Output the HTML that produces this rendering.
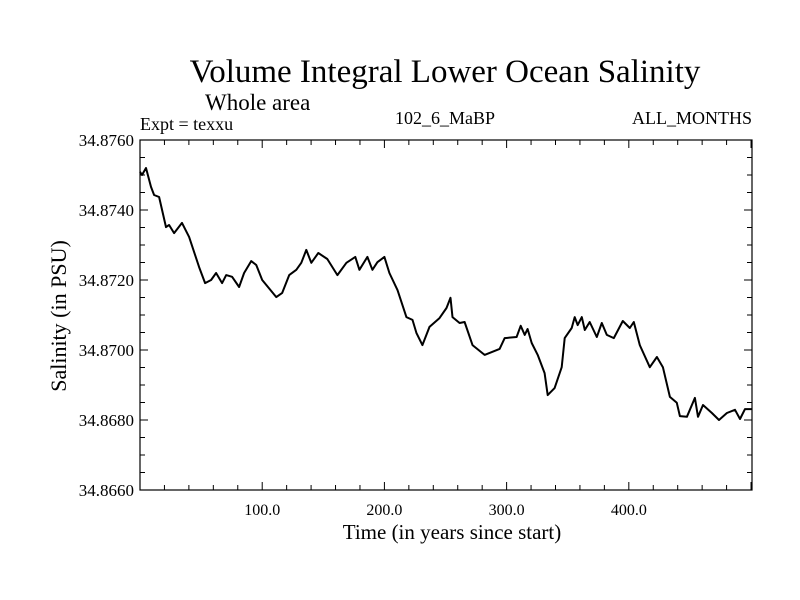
<!DOCTYPE html>
<html><head><meta charset="utf-8"><style>
body{margin:0;background:#fff}
svg{display:block}
text{font-family:"Liberation Serif",serif;fill:#000}
</style></head><body>
<svg id="chart" width="800" height="600">
<text x="445" y="82" font-size="33" text-anchor="middle">Volume Integral Lower Ocean Salinity</text>
<text x="205" y="110" font-size="23">Whole area</text>
<text x="140" y="130" font-size="18">Expt = texxu</text>
<text x="445" y="124" font-size="18" text-anchor="middle">102_6_MaBP</text>
<text x="752" y="124" font-size="18" text-anchor="end">ALL_MONTHS</text>
<text x="452" y="539" font-size="21" text-anchor="middle">Time (in years since start)</text>
<text x="0" y="0" font-size="22" text-anchor="middle" transform="translate(66,316) rotate(-90)">Salinity (in PSU)</text>
<g id="axes"></g>
<path id="line" fill="none" stroke="#000" stroke-width="2" stroke-linejoin="round"></path>
<rect x="140" y="140" width="612" height="350" fill="none" stroke="#000" stroke-width="1.2"></rect>
</svg>
<script>
const years=[0,1.6,4.9,9.0,11.5,15.6,21.3,23.8,27.9,34.4,40.2,48.4,53.3,58.2,62.3,67.2,70.5,75.4,81.1,85.2,91.0,95.1,100.0,111.5,116.4,122.1,127.9,132.0,136.1,140.2,145.9,153.3,161.5,168.9,176.2,179.5,186.1,190.2,194.3,200.0,204.1,210.7,218.0,223.0,226.2,231.1,236.9,245.1,250.8,254.1,255.7,261.5,265.6,272.1,282.0,294.3,298.4,308.2,311.5,314.8,317.2,320.5,325.4,331.1,333.6,339.3,345.1,347.5,353.3,355.7,358.2,361.5,364.0,368.0,373.8,377.9,382.0,387.7,395.1,400.8,404.1,409.0,417.2,423.0,427.9,433.6,439.3,441.8,447.5,454.1,456.6,460.7,468.0,473.8,480.3,486.9,491.0,495.1,500.8];
const salinity=[34.87509,34.87500,34.87520,34.87466,34.87443,34.87437,34.87351,34.87357,34.87334,34.87363,34.87323,34.87237,34.87191,34.87200,34.87220,34.87191,34.87214,34.87209,34.87180,34.87220,34.87254,34.87243,34.87200,34.87151,34.87163,34.87214,34.87229,34.87249,34.87286,34.87249,34.87277,34.87260,34.87214,34.87249,34.87266,34.87229,34.87266,34.87229,34.87251,34.87266,34.87220,34.87171,34.87094,34.87086,34.87049,34.87014,34.87066,34.87091,34.87120,34.87149,34.87094,34.87077,34.87080,34.87014,34.86986,34.87003,34.87034,34.87037,34.87069,34.87043,34.87060,34.87020,34.86986,34.86934,34.86871,34.86891,34.86951,34.87034,34.87063,34.87094,34.87071,34.87094,34.87057,34.87080,34.87037,34.87077,34.87043,34.87034,34.87083,34.87063,34.87080,34.87014,34.86951,34.86980,34.86951,34.86866,34.86849,34.86811,34.86809,34.86863,34.86809,34.86843,34.86820,34.86800,34.86820,34.86829,34.86803,34.86831,34.86831];
const xTickLabels=["100.0","200.0","300.0","400.0"];
const xTickValues=[100,200,300,400];
const yTickLabels=["34.8660","34.8680","34.8700","34.8720","34.8740","34.8760"];
const yTickValues=[34.866,34.868,34.870,34.872,34.874,34.876];

const X0=140,X1=752,Y0=490,Y1=140,xMin=0,xMax=500.8,yMin=34.866,yMax=34.876;
function xs(v){return X0+(v-xMin)/(xMax-xMin)*(X1-X0);}
function ys(v){return Y0-(v-yMin)/(yMax-yMin)*(Y0-Y1);}
const ns="http://www.w3.org/2000/svg";
const axes=document.getElementById('axes');
function ln(x1,y1,x2,y2,name){const l=document.createElementNS(ns,'line');
l.setAttribute('x1',x1);l.setAttribute('y1',y1);l.setAttribute('x2',x2);l.setAttribute('y2',y2);
l.setAttribute('stroke','#000');l.setAttribute('stroke-width','1');


axes.appendChild(l);}
for(let t=20;t<xMax;t+=20){const x=xs(t);const L=(t%100===0)?8:5;
ln(x,Y0,x,Y0-L,'x-tick');ln(x,Y1,x,Y1+L,'x-tick-top');}
for(let k=1;k<20;k++){const v=yMin+k*0.0005;const y=ys(v);const L=(k%4===0)?8:5;
ln(X0,y,X0+L,y,'y-tick');ln(X1,y,X1-L,y,'y-tick-right');}
xTickLabels.forEach((s,i)=>{const t=document.createElementNS(ns,'text');
t.setAttribute('x',xs(xTickValues[i]));t.setAttribute('y',Y0+25);t.setAttribute('font-size','16');t.setAttribute('text-anchor','middle');


t.textContent=s;axes.appendChild(t);});
yTickLabels.forEach((s,i)=>{const t=document.createElementNS(ns,'text');
t.setAttribute('x',X0-6);t.setAttribute('y',ys(yTickValues[i])+6);t.setAttribute('font-size','17');t.setAttribute('text-anchor','end');


t.textContent=s;axes.appendChild(t);});
document.getElementById('line').setAttribute('d',years.map((y,i)=>(i?'L':'M')+xs(y).toFixed(1)+','+ys(salinity[i]).toFixed(1)).join(''));
</script>
</body></html>
